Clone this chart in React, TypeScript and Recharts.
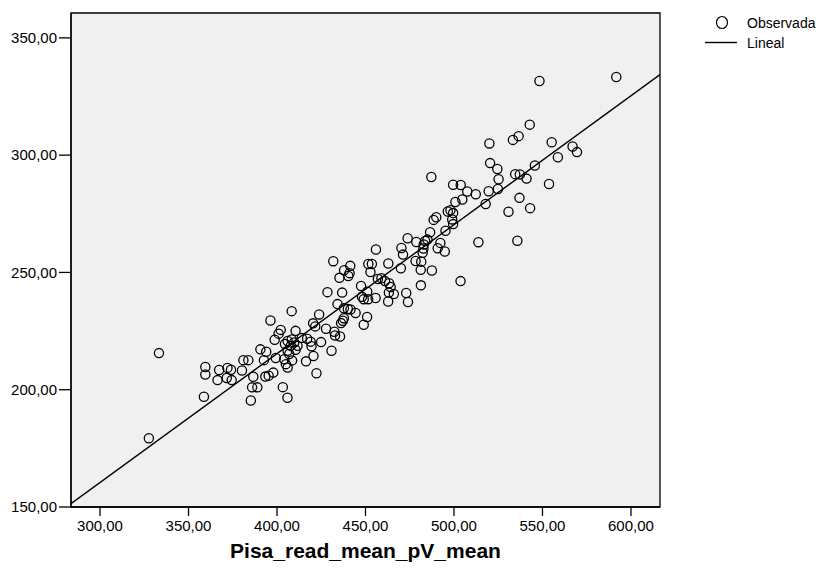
import { ScatterChart, Scatter, XAxis, YAxis, ReferenceArea } from "recharts";

const pisaRead = [
  591.7, 548.3, 542.8, 536.5, 533.3, 520.0, 555.2, 567.0, 569.5, 558.7,
  545.7, 520.4, 524.5, 534.6, 537.2, 541.0, 525.2, 487.2, 499.5, 503.8,
  553.7, 507.5, 512.3, 519.6, 524.8, 504.7, 500.8, 537.0, 517.9, 543.0,
  530.8, 496.5, 498.0, 499.5, 488.5, 490.0, 499.0, 499.5, 495.2, 486.5,
  513.8, 535.8, 473.8, 478.7, 485.0, 483.7, 492.3, 482.9, 470.3, 455.9,
  471.2, 490.8, 482.3, 494.8, 503.7, 478.3, 481.5, 431.8, 441.4, 453.6,
  451.6, 462.9, 470.0, 481.2, 487.5, 437.9, 441.0, 452.8, 435.3, 440.3,
  457.0, 459.0, 461.0, 463.3, 464.2, 481.3, 447.5, 428.5, 436.8, 451.0,
  463.2, 466.0, 473.0, 448.0, 449.0, 451.5, 455.7, 462.8, 474.0, 434.2,
  437.8, 440.0, 441.5, 408.3, 423.8, 444.4, 450.9, 437.8, 437.2, 436.2,
  449.0, 396.3, 420.4, 421.6, 427.7, 432.4, 432.8, 435.6, 410.5, 402.1,
  400.9, 398.7, 408.3, 409.7, 414.0, 417.0, 419.0, 419.5, 424.9, 406.0,
  407.8, 411.6, 390.6, 393.9, 406.0, 406.9, 430.8, 333.3, 381.0, 383.8,
  392.6, 399.3, 420.6, 404.1, 416.4, 359.5, 367.3, 372.0, 374.0, 380.2,
  405.0, 406.0, 359.5, 366.4, 371.6, 374.4, 386.6, 393.4, 395.3, 397.9,
  422.3, 385.9, 388.9, 403.3, 358.7, 385.2, 405.9, 327.6, 482.7, 410.5,
  408.5, 404.5,
];

const observed = [
  333.3, 331.6, 313.0, 308.1, 306.5, 305.0, 305.5, 303.7, 301.3, 299.1,
  295.6, 296.6, 294.1, 291.9, 291.8, 290.0, 289.7, 290.7, 287.4, 287.3,
  287.7, 284.5, 283.3, 284.6, 285.6, 281.1, 280.0, 281.8, 279.2, 277.4,
  275.9, 276.0, 276.5, 275.3, 272.4, 273.5, 272.6, 270.6, 267.8, 267.1,
  262.9, 263.5, 264.6, 263.0, 264.0, 263.4, 262.6, 261.9, 260.4, 259.8,
  257.6, 260.3, 258.4, 258.9, 246.3, 254.9, 254.6, 254.8, 252.8, 253.6,
  253.6, 253.8, 251.8, 251.1, 250.8, 250.9, 249.7, 250.2, 247.7, 248.5,
  247.2, 247.5, 246.3, 245.4, 243.8, 244.5, 244.2, 241.6, 241.4, 241.8,
  241.4, 240.8, 241.2, 239.6, 238.6, 238.6, 239.1, 237.6, 237.4, 236.5,
  234.7, 234.4, 234.2, 233.5, 232.1, 232.7, 231.0, 230.5, 229.4, 228.4,
  227.7, 229.5, 228.3, 227.0, 226.0, 224.7, 223.1, 222.7, 225.1, 225.5,
  223.9, 221.3, 221.4, 220.1, 222.1, 221.7, 220.5, 218.5, 220.3, 220.8,
  218.7, 218.7, 217.2, 216.2, 216.6, 215.2, 216.6, 215.6, 212.6, 212.6,
  212.6, 213.5, 214.4, 213.0, 212.1, 209.7, 208.4, 209.3, 208.5, 208.2,
  210.9, 209.5, 206.5, 204.1, 205.0, 204.1, 205.5, 205.6, 206.0, 207.3,
  207.0, 201.0, 201.0, 201.1, 197.0, 195.4, 196.6, 179.3, 260.2, 217.0,
  212.5, 219.5,
];

const xTicks = [300, 350, 400, 450, 500, 550, 600];
const yTicks = [150, 200, 250, 300, 350];

const xDomain = [283.6, 616.4];
const yDomain = [150, 360.6];

// linear fit
const fitIntercept = -4.46;
const fitSlope = 0.5496;

const points = pisaRead.map((x, i) => ({ x, y: observed[i] }));
const fitLine = xDomain.map((x) => ({ x, y: fitIntercept + fitSlope * x }));

const fmt = (v: number) => v.toFixed(2).replace(".", ",");
const font = "'Liberation Sans', Arial, sans-serif";

const Ring = (props: any) => (
  <circle
    cx={props.cx}
    cy={props.cy}
    r={4.6}
    fill="none"
    stroke="#000"
    strokeWidth={1.3}
  />
);

// legend sits outside the plot, to the right
const LegendBox = () => (
  <svg
    width={122}
    height={52}
    style={{ position: "absolute", left: 702, top: 12, overflow: "visible" }}
  >
    <ellipse cx={20} cy={10.5} rx={5.5} ry={6} fill="none" stroke="#000" strokeWidth={1.2} />
    <text x={45} y={15.5} fontSize={14} fontFamily={font} fill="#000">
      Observada
    </text>
    <line x1={3} y1={30.5} x2={35} y2={30.5} stroke="#000" strokeWidth={1.4} />
    <text x={45} y={35.5} fontSize={14} fontFamily={font} fill="#000">
      Lineal
    </text>
  </svg>
);

export default function App() {
  return (
    <div style={{ position: "absolute", left: 0, top: 0, width: 822, height: 568, fontFamily: font }}>
      <ScatterChart
        width={822}
        height={568}
        margin={{ top: 13, right: 162, bottom: 1, left: 0 }}
      >
        <XAxis
          type="number"
          dataKey="x"
          domain={xDomain}
          ticks={xTicks}
          tickFormatter={fmt}
          allowDataOverflow
          height={60}
          tickSize={9}
          tickMargin={4}
          tick={{ fontSize: 15, fill: "#000", fontFamily: font }}
          axisLine={{ stroke: "#000", strokeWidth: 1.3 }}
          tickLine={{ stroke: "#000", strokeWidth: 1.3 }}
          label={{
            value: "Pisa_read_mean_pV_mean",
            position: "insideBottom",
            offset: 9,
            fontSize: 21,
            fontWeight: "bold",
            fill: "#000",
            fontFamily: font,
          }}
        />
        <YAxis
          type="number"
          dataKey="y"
          domain={yDomain}
          ticks={yTicks}
          tickFormatter={fmt}
          allowDataOverflow
          width={71}
          tickSize={12}
          tickMargin={2}
          tick={{ fontSize: 15, fill: "#000", fontFamily: font }}
          axisLine={{ stroke: "#000", strokeWidth: 1.3 }}
          tickLine={{ stroke: "#000", strokeWidth: 1.3 }}
        />
        <ReferenceArea
          x1={xDomain[0]}
          x2={xDomain[1]}
          y1={yDomain[0]}
          y2={yDomain[1]}
          fill="#f0f0f0"
          fillOpacity={1}
          stroke="#000"
          strokeWidth={1.3}
        />
        <Scatter
          name="Observada"
          data={points}
          shape={Ring}
          isAnimationActive={false}
        />
        <Scatter
          name="Lineal"
          data={fitLine}
          line={{ stroke: "#000", strokeWidth: 1.4 }}
          shape={() => <g />}
          isAnimationActive={false}
        />
      </ScatterChart>
      <LegendBox />
    </div>
  );
}
